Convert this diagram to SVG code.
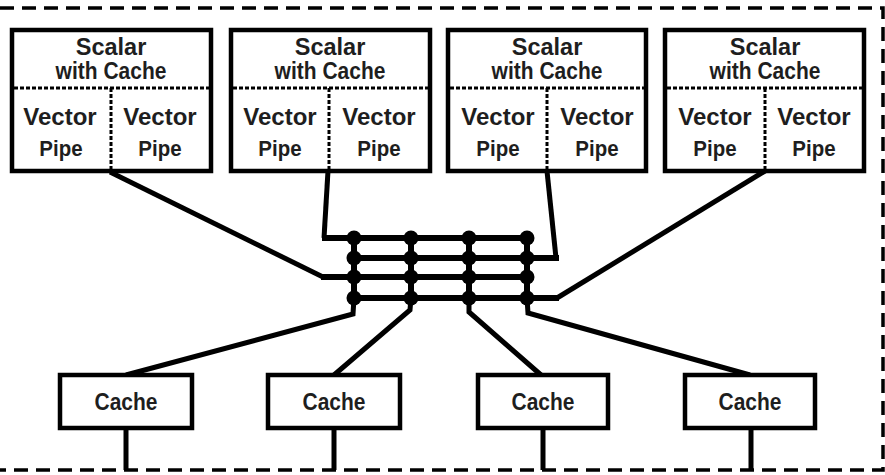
<svg xmlns="http://www.w3.org/2000/svg" width="885" height="475" viewBox="0 0 885 475">
<style>
.frame{fill:none;stroke:#000;stroke-width:3.5;stroke-dasharray:14 8}
.box{fill:#fff;stroke:#000;stroke-width:4.5}
.dot{fill:none;stroke:#000;stroke-width:3;stroke-dasharray:4 2}
.t{font-family:"Liberation Sans",Arial,sans-serif;font-weight:bold;fill:#1e1e1e;text-anchor:middle}
.s{font-size:23.5px}.w{font-size:21px}.v{font-size:24px}.p{font-size:20.5px}.c{font-size:21px}
.bus{fill:none;stroke:#000;stroke-width:6;stroke-linejoin:miter}
.wire{fill:none;stroke:#000;stroke-width:5;stroke-linejoin:miter}
.j{fill:#000}
</style>
<rect width="885" height="475" fill="#fff"/>
<path class="frame" d="M0,8 H883 V470 H0"/>
<g id="connectors">
<path class="wire" d="M328,171 L324,238"/>
<path class="bus" d="M322,238 H527"/>
<path class="wire" d="M547,171 L556,258"/>
<path class="bus" d="M354,258 H559"/>
<path class="wire" d="M110,172 L323,277"/>
<path class="bus" d="M321,277 H527"/>
<path class="wire" d="M765,171 L557,298"/>
<path class="bus" d="M354,298 H559"/>
<path class="bus" d="M354,238 V298 M411,238 V298 M469,238 V298 M527,238 V298"/>
<path class="wire" d="M354,298 L353,314 L126,375"/>
<path class="wire" d="M411,298 L410,310 L334,375"/>
<path class="wire" d="M469,298 L469,312 L541,375"/>
<path class="wire" d="M527,298 L528,313 L750,375"/>
<path class="wire" d="M126,428 V470 M334,428 V470 M543,428 V470 M751,428 V470"/>
<g class="j">
<circle cx="354" cy="238" r="7.5"/><circle cx="411" cy="238" r="7.5"/><circle cx="469" cy="238" r="7.5"/><circle cx="527" cy="238" r="7.5"/>
<circle cx="354" cy="258" r="7.5"/><circle cx="411" cy="258" r="7.5"/><circle cx="469" cy="258" r="7.5"/><circle cx="527" cy="258" r="7.5"/>
<circle cx="354" cy="277" r="7.5"/><circle cx="411" cy="277" r="7.5"/><circle cx="469" cy="277" r="7.5"/><circle cx="527" cy="277" r="7.5"/>
<circle cx="354" cy="298" r="7.5"/><circle cx="411" cy="298" r="7.5"/><circle cx="469" cy="298" r="7.5"/><circle cx="527" cy="298" r="7.5"/>
</g>
</g>
<g id="proc1">
<rect class="box" x="12" y="30" width="199" height="141"/>
<path class="dot" d="M14,88 H209 M111,88 V169"/>
<text class="t s" x="111" y="55">Scalar</text>
<text class="t w" transform="translate(111 79) scale(1 1.1)">with Cache</text>
<text class="t v" x="60" y="125">Vector</text>
<text class="t p" transform="translate(61 156) scale(1 1.1)">Pipe</text>
<text class="t v" x="160" y="125">Vector</text>
<text class="t p" transform="translate(160 156) scale(1 1.1)">Pipe</text>
</g>
<g id="proc2">
<rect class="box" x="231" y="30" width="199" height="141"/>
<path class="dot" d="M233,88 H428 M329,88 V169"/>
<text class="t s" x="330" y="55">Scalar</text>
<text class="t w" transform="translate(330 79) scale(1 1.1)">with Cache</text>
<text class="t v" x="280" y="125">Vector</text>
<text class="t p" transform="translate(280 156) scale(1 1.1)">Pipe</text>
<text class="t v" x="379" y="125">Vector</text>
<text class="t p" transform="translate(379 156) scale(1 1.1)">Pipe</text>
</g>
<g id="proc3">
<rect class="box" x="448" y="30" width="198" height="141"/>
<path class="dot" d="M450,88 H644 M547,88 V169"/>
<text class="t s" x="547" y="55">Scalar</text>
<text class="t w" transform="translate(547 79) scale(1 1.1)">with Cache</text>
<text class="t v" x="498" y="125">Vector</text>
<text class="t p" transform="translate(498 156) scale(1 1.1)">Pipe</text>
<text class="t v" x="597" y="125">Vector</text>
<text class="t p" transform="translate(597 156) scale(1 1.1)">Pipe</text>
</g>
<g id="proc4">
<rect class="box" x="665" y="30" width="199" height="141"/>
<path class="dot" d="M667,88 H862 M765,88 V169"/>
<text class="t s" x="765" y="55">Scalar</text>
<text class="t w" transform="translate(765 79) scale(1 1.1)">with Cache</text>
<text class="t v" x="715" y="125">Vector</text>
<text class="t p" transform="translate(715 156) scale(1 1.1)">Pipe</text>
<text class="t v" x="814" y="125">Vector</text>
<text class="t p" transform="translate(814 156) scale(1 1.1)">Pipe</text>
</g>
<g id="cache1"><rect class="box" x="60" y="375" width="132" height="53"/><text class="t c" transform="translate(126 410) scale(1 1.12)">Cache</text></g>
<g id="cache2"><rect class="box" x="268" y="375" width="132" height="53"/><text class="t c" transform="translate(334 410) scale(1 1.12)">Cache</text></g>
<g id="cache3"><rect class="box" x="478" y="375" width="130" height="53"/><text class="t c" transform="translate(543 410) scale(1 1.12)">Cache</text></g>
<g id="cache4"><rect class="box" x="685" y="375" width="130" height="53"/><text class="t c" transform="translate(750 410) scale(1 1.12)">Cache</text></g>
</svg>
